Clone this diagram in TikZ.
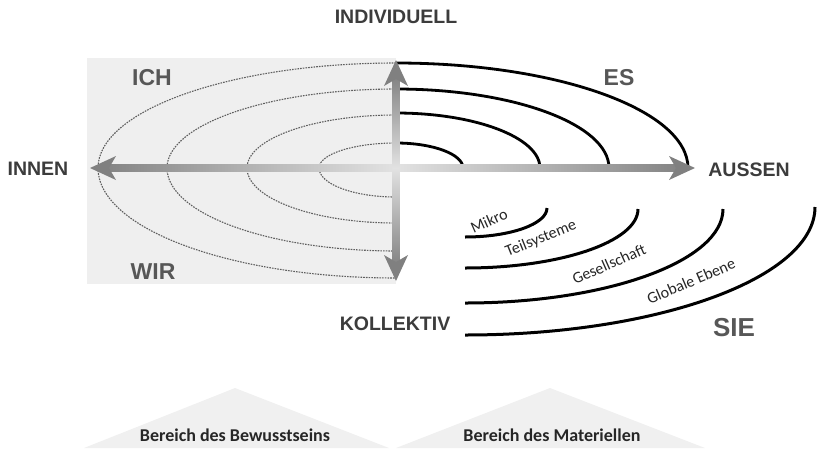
\documentclass[tikz,border=0pt]{standalone}
\usepackage{fontspec}
\setmainfont{Liberation Sans}
\newfontfamily\carlito{Carlito}
\definecolor{labelgray}{HTML}{3C3C3C}
\definecolor{quadgray}{HTML}{575757}
\definecolor{panelfill}{HTML}{EFEFEF}
\definecolor{basefill}{HTML}{F0F0F0}
\definecolor{ringgray}{HTML}{5E5E5E}
\definecolor{shaftdark}{HTML}{858585}
\definecolor{shaftlight}{HTML}{E2E2E2}
\definecolor{headgray}{HTML}{808080}
\begin{document}
\begin{tikzpicture}[x=1pt,y=-1pt,
  axislabel/.style={font=\fontsize{19.5}{20}\selectfont\bfseries, text=labelgray, inner sep=0},
  quadlabel/.style={font=\fontsize{23}{24}\selectfont\bfseries, text=quadgray, inner sep=0},
  levellabel/.style={font=\carlito\fontsize{16}{17}\selectfont, text=black!85, inner sep=0},
  baselabel/.style={font=\carlito\fontsize{18}{19}\selectfont\bfseries, text=black!85, inner sep=0},
  ringdash/.style={draw=ringgray, line width=1.1pt, dash pattern=on 1.6pt off 1.1pt},
  ringsolid/.style={draw=black, line width=2.8pt},
  levelarc/.style={draw=black, line width=3pt},
  arrowhead/.style={fill=headgray}
]
\useasboundingbox (0,0) rectangle (817,448);

% axis end points
\coordinate (O) at (396,168);
\coordinate (W) at (90,168);
\coordinate (E) at (695,168);
\coordinate (N) at (396,60);
\coordinate (S) at (396,281);

% inner (left) quadrant panel
\fill[panelfill] (87,58) rectangle (396,284);

% dashed rings of the inner side
\foreach \rx/\rt/\rb in {77/25/29, 149/53/55, 229/79/83, 298/105/110} {
  \draw[ringdash] (396,{168-\rt})
    arc[start angle=270, end angle=180, x radius=\rx, y radius=\rt]
    arc[start angle=180, end angle=90, x radius=\rx, y radius=\rb];
}

% solid rings of the outer side
\foreach \rx/\ry in {67/25, 144/55, 213/79, 292/105} {
  \draw[ringsolid] (396,{168-\ry})
    arc[start angle=270, end angle=360, x radius=\rx, y radius=\ry];
}

% level arcs of the collective outer side
\draw[levelarc] (465,237) arc[start angle=90, end angle=0, x radius=82, y radius=29];
\draw[levelarc] (465,268) arc[start angle=90, end angle=0, x radius=173, y radius=59];
\draw[levelarc] (465,303) arc[start angle=90, end angle=0, x radius=258, y radius=94];
\draw[levelarc] (465,335) arc[start angle=90, end angle=0, x radius=350, y radius=128];

% horizontal axis: shaded shaft and heads
\shade[left color=shaftdark, right color=shaftlight] (108,164.5) rectangle (396,171.5);
\shade[left color=shaftlight, right color=shaftdark] (396,164.5) rectangle (677,171.5);
\fill[arrowhead] (W) -- ++(26,-12) -- ++(-7,12) -- ++(7,12) -- cycle;
\fill[arrowhead] (E) -- ++(-26,-12) -- ++(7,12) -- ++(-7,12) -- cycle;

% vertical axis: shaded shaft and heads
\shade[top color=shaftdark, bottom color=shaftlight] (392.5,78) rectangle (399.5,168);
\shade[top color=shaftlight, bottom color=shaftdark] (392.5,168) rectangle (399.5,263);
\fill[arrowhead] (N) -- ++(-12,26) -- ++(12,-7) -- ++(12,7) -- cycle;
\fill[arrowhead] (S) -- ++(-12,-26) -- ++(12,7) -- ++(12,-7) -- cycle;

% axis labels
\node[axislabel] (individuell) at (396,17) {INDIVIDUELL};
\node[axislabel] (innen) at (38,169) {INNEN};
\node[axislabel] (aussen) at (749,170) {AUSSEN};
\node[axislabel] (kollektiv) at (395,324) {KOLLEKTIV};

% quadrant labels
\node[quadlabel] (ich) at (152,78) {ICH};
\node[quadlabel] (es) at (619,78) {ES};
\node[quadlabel] (wir) at (153,272) {WIR};
\node[quadlabel, font=\fontsize{26}{27}\selectfont\bfseries] (sie) at (734,328) {SIE};

% level labels
\node[levellabel, rotate=24] (mikro) at (489,221) {Mikro};
\node[levellabel, rotate=22] (teil) at (541,239) {Teilsysteme};
\node[levellabel, rotate=24] (gesell) at (609,264) {Gesellschaft};
\node[levellabel, rotate=23] (global) at (691,281) {Globale Ebene};

% domain bases
\fill[basefill] (84,448) -- (235,388) -- (389,448) -- cycle;
\fill[basefill] (396,448) -- (550,388) -- (705,448) -- cycle;
\node[baselabel, anchor=base] (bewusst) at (235,441) {Bereich des Bewusstseins};
\node[baselabel, anchor=base] (materiell) at (552,441) {Bereich des Materiellen};
\end{tikzpicture}
\end{document}
